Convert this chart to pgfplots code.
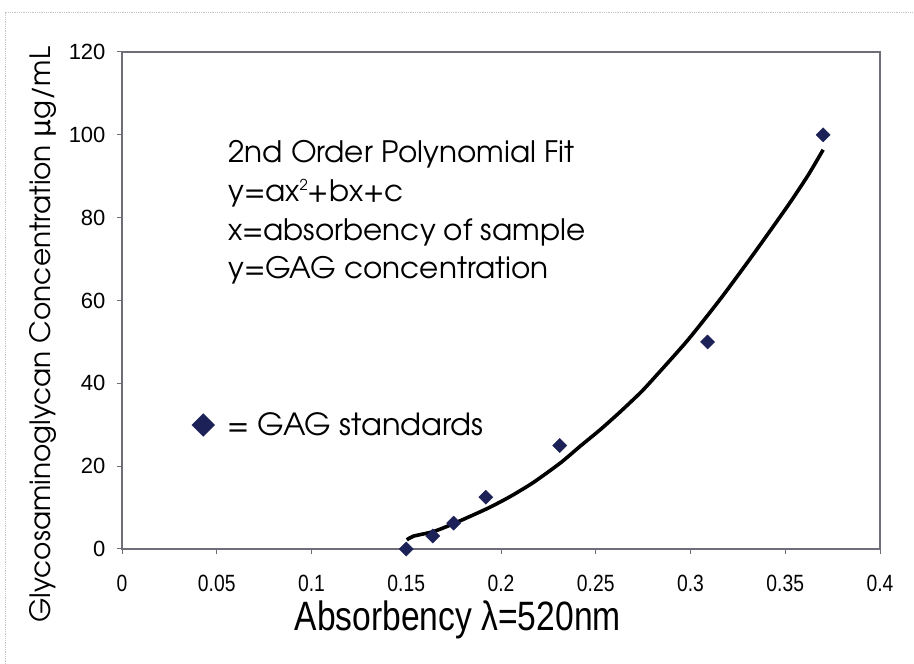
\documentclass[border=0pt]{standalone}
\usepackage{fontspec}
\usepackage{pgfplots}
\pgfplotsset{compat=1.18}
\setmainfont{TeX Gyre Adventor}
\newfontfamily\narrowfont[FakeStretch=0.82]{Liberation Sans}
\newfontfamily\arialfont{Liberation Sans}
\newfontfamily\symfont{DejaVu Sans}
\definecolor{gagblue}{HTML}{1C2158}
\definecolor{framegray}{HTML}{6E6E78}

% GAG standards: absorbency at 520 nm vs. concentration (ug/mL)
\pgfplotstableread{
x      y
0.150  0
0.164  3.125
0.175  6.25
0.192  12.5
0.231  25
0.309  50
0.370  100
}\standards

% second order polynomial fit curve
\pgfplotstableread{
x       y
0.1503  2.2
0.1538  3.1
0.1643  4.2
0.1749  6.1
0.1929  9.8
0.2050  12.7
0.2172  16.1
0.2314  20.8
0.2420  24.9
0.2526  28.9
0.2631  33.2
0.2737  37.8
0.2806  41.2
0.2985  50.4
0.3160  60.5
0.3334  71.3
0.3514  82.9
0.3620  90.2
0.3700  96.4
}\fitcurve

\newcommand\sq{{\fontsize{15}{15}\selectfont\raisebox{11pt}{2}}}

\begin{document}
\begin{tikzpicture}
\path[use as bounding box] (0,0) rectangle (914pt,664pt);
\fill[white] (0,0) rectangle (914pt,664pt);
\draw[gray!45, densely dotted, line width=0.8pt] (5pt,0) -- (5pt,652pt) -- (914pt,652pt);
\begin{axis}[
  at={(122pt,115pt)}, anchor=south west,
  width=758pt, height=497pt, scale only axis,
  xmin=0, xmax=0.4, ymin=0, ymax=120,
  xtick={0,0.05,...,0.4}, ytick={0,20,...,120},
  xticklabels={0,0.05,0.1,0.15,0.2,0.25,0.3,0.35,0.4},
  axis line style={framegray, line width=1.3pt},
  tick style={framegray, line width=1pt},
  tick align=outside, major tick length=5pt,
  xtick pos=bottom, ytick pos=left,
  /pgf/number format/assume math mode=true,
  xticklabel style={font=\narrowfont\fontsize{23.5}{25}\selectfont, yshift=-18pt},
  yticklabel style={font=\arialfont\fontsize{22}{24}\selectfont, xshift=-8pt},
  xlabel={Absorbency λ=520nm},
  xlabel style={font=\narrowfont\fontsize{41}{45}\selectfont, at={(rel axis cs:0.443,0)}, anchor=center, yshift=-71pt},
  ylabel={Glycosaminoglycan Concentration {\symfont μ}g/mL},
  ylabel style={font=\fontsize{28}{31}\selectfont, at={(rel axis cs:-0.104,0.431)}, anchor=center},
  legend style={at={(axis cs:0.0368,29.94)}, anchor=west, draw=none, fill=none,
    inner sep=0pt, column sep=13pt, nodes={inner sep=0pt},
    font=\fontsize{30.5}{33}\selectfont},
  legend image code/.code={\draw[#1, mark size=8pt] plot coordinates {(0pt,0pt)};},
  clip=false,
]
\addplot[black, line width=3.6pt, smooth, tension=0.4, forget plot] table[x=x,y=y] {\fitcurve};
\addplot[only marks, mark=square*, mark size=5pt, mark options={rotate=45, fill=gagblue, draw=gagblue}] table[x=x,y=y] {\standards};
\addlegendentry{= GAG standards}
\node[anchor=base west, font=\fontsize{29.5}{32}\selectfont, inner sep=0pt] at (axis cs:0.056,93.4) {2nd Order Polynomial Fit};
\node[anchor=base west, font=\fontsize{29.5}{32}\selectfont, inner sep=0pt] at (axis cs:0.056,84.0) {y=ax\sq+bx+c};
\node[anchor=base west, font=\fontsize{29.5}{32}\selectfont, inner sep=0pt] at (axis cs:0.056,74.6) {x=absorbency of sample};
\node[anchor=base west, font=\fontsize{29.5}{32}\selectfont, inner sep=0pt] at (axis cs:0.056,65.2) {y=GAG concentration};
\end{axis}
\end{tikzpicture}
\end{document}
